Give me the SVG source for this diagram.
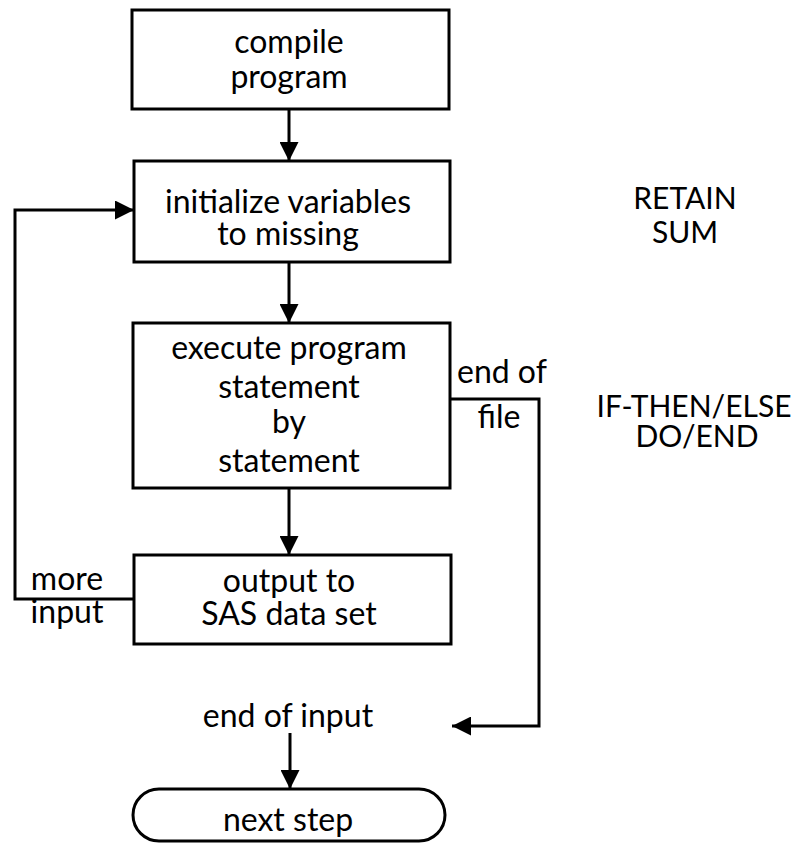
<svg xmlns="http://www.w3.org/2000/svg" width="804" height="843" viewBox="0 0 804 843">
  <style>
    .box { fill: #fff; stroke: #000; stroke-width: 3; }
    .wire { fill: none; stroke: #000; stroke-width: 3; }
    text { font-family: Lato, "Open Sans", "Liberation Sans", sans-serif; font-size: 32px; fill: #000; text-anchor: middle; }
    .left { text-anchor: start; }
    .note { font-size: 30px; }
  </style>
  <defs>
    <marker id="arrow" viewBox="0 0 19 19" refX="19" refY="9.5" markerWidth="19" markerHeight="19" markerUnits="userSpaceOnUse" orient="auto">
      <path d="M0,0 L19,9.5 L0,19 Z" fill="#000"/>
    </marker>
  </defs>
  <rect width="804" height="843" fill="#fff"/>

  <!-- connectors -->
  <g id="connectors">
    <line class="wire" x1="289" y1="109" x2="289" y2="161" marker-end="url(#arrow)"/>
    <line class="wire" x1="289" y1="262" x2="289" y2="323" marker-end="url(#arrow)"/>
    <line class="wire" x1="289" y1="488" x2="289" y2="555" marker-end="url(#arrow)"/>
    <polyline class="wire" points="134,599 15,599 15,210 134,210" marker-end="url(#arrow)"/>
    <polyline class="wire" points="450,399 539,399 539,726 452,726" marker-end="url(#arrow)"/>
    <line class="wire" x1="290" y1="733" x2="290" y2="789" marker-end="url(#arrow)"/>
  </g>

  <g id="compile">
    <rect class="box" x="132" y="10" width="317" height="99"/>
    <text x="289" y="53">compile</text>
    <text x="289" y="88">program</text>
  </g>

  <g id="initialize">
    <rect class="box" x="134" y="161" width="316" height="101"/>
    <text x="288" y="213">initialize variables</text>
    <text x="288" y="245">to missing</text>
  </g>

  <g id="execute">
    <rect class="box" x="133" y="323" width="317" height="165"/>
    <text x="289" y="359">execute program</text>
    <text x="289" y="398">statement</text>
    <text x="289" y="433">by</text>
    <text x="289" y="472">statement</text>
  </g>

  <g id="output">
    <rect class="box" x="134" y="555" width="317" height="89"/>
    <text x="289" y="592">output to</text>
    <text x="289" y="625">SAS data set</text>
  </g>

  <g id="next-step">
    <rect class="box" x="133" y="789" width="312" height="52" rx="26" ry="26"/>
    <text x="288" y="831">next step</text>
  </g>

  <!-- connector labels and side notes -->
  <g id="labels">
    <text x="67" y="590">more</text>
    <text x="67" y="623">input</text>
    <text class="left" x="457" y="383">end of</text>
    <text x="499" y="428">file</text>
    <text x="288" y="727">end of input</text>
    <text class="note" x="685" y="209">RETAIN</text>
    <text class="note" x="685" y="243">SUM</text>
    <text class="note" x="694" y="417">IF-THEN/ELSE</text>
    <text class="note" x="697" y="447">DO/END</text>
  </g>
</svg>
